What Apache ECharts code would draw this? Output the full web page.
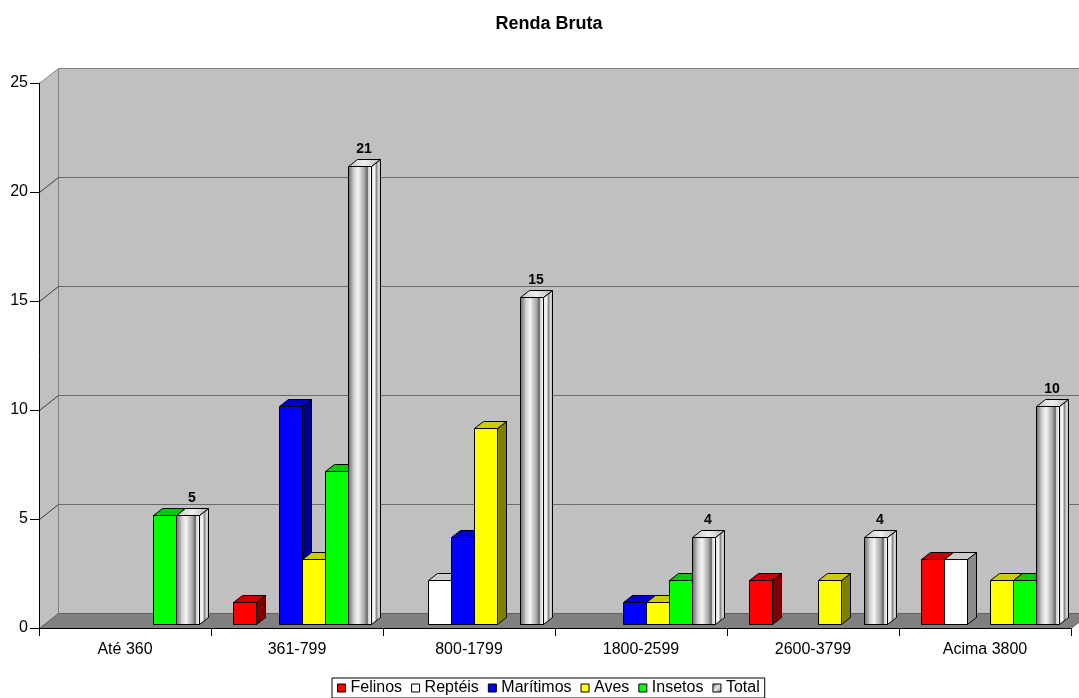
<!DOCTYPE html>
<html>
<head>
<meta charset="utf-8">
<script src="https://cdn.jsdelivr.net/npm/echarts@6/dist/echarts.min.js"></script>
<style>
  html, body { margin: 0; padding: 0; background: #fff; }
  #chart { width: 1079px; height: 698px; }
</style>
</head>
<body>
<div id="chart"></div>
<script>
// Income brackets and counts per group
const categories = ['Até 360', '361-799', '800-1799', '1800-2599', '2600-3799', 'Acima 3800'];
const felinos   = [0, 1, 0, 0, 2, 3];
const repteis   = [0, 0, 2, 0, 0, 3];
const maritimos = [0, 10, 4, 1, 0, 0];
const aves      = [0, 3, 9, 1, 2, 2];
const insetos   = [5, 7, 0, 2, 0, 2];
const total     = [5, 21, 15, 4, 4, 10];
const yTicks    = [0, 5, 10, 15, 20, 25];
const seriesNames = ['Felinos', 'Reptéis', 'Marítimos', 'Aves', 'Insetos', 'Total'];
const seriesValues = [felinos, repteis, maritimos, aves, insetos, total];

const FONT = '"Liberation Sans", Arial, Helvetica, sans-serif';

// Oblique 3D projection: full depth of the plot box in pixels
const DEPTH_X = 19, DEPTH_Y = -15;
// Bars sit between these fractions of the depth
const BAR_FRONT = 0.28, BAR_BACK = 0.72;
// Bar placement inside one category slot (fractions of the slot width)
const BAR_OFFSET = 17 / 172, BAR_WIDTH = 23 / 172;

const G = echarts.graphic.LinearGradient;
// Brushed-metal look for the "Total" columns
const chromeFront = () => new G(0, 0, 1, 0, [
  { offset: 0.00, color: '#6c6c6c' },
  { offset: 0.10, color: '#8e8e8e' },
  { offset: 0.26, color: '#d6d6d6' },
  { offset: 0.42, color: '#f4f4f4' },
  { offset: 0.58, color: '#c4c4c4' },
  { offset: 0.72, color: '#9c9c9c' },
  { offset: 0.80, color: '#5a5a5a' },
  { offset: 0.86, color: '#dcdcdc' },
  { offset: 0.94, color: '#f2f2f2' },
  { offset: 1.00, color: '#b8b8b8' }
]);
const chromeSide = () => new G(0, 0, 1, 0, [
  { offset: 0.00, color: '#e0e0e0' },
  { offset: 0.35, color: '#f4f4f4' },
  { offset: 0.55, color: '#8c8c8c' },
  { offset: 0.75, color: '#d4d4d4' },
  { offset: 1.00, color: '#bcbcbc' }
]);
const chromeTop = () => new G(0, 0, 1, 0, [
  { offset: 0, color: '#c4c4c4' },
  { offset: 0.5, color: '#f0f0f0' },
  { offset: 1, color: '#b0b0b0' }
]);

const faceStyles = [
  { front: '#ff0000', top: '#cc0000', side: '#800000' },
  { front: '#ffffff', top: '#cccccc', side: '#8c8c8c' },
  { front: '#0000ff', top: '#0000cc', side: '#000080' },
  { front: '#ffff00', top: '#cccc00', side: '#808000' },
  { front: '#00ff00', top: '#00cc00', side: '#008000' },
  { front: chromeFront(), top: chromeTop(), side: chromeSide() }
];

function poly(points, fill, stroke) {
  return {
    type: 'polygon',
    shape: { points: points },
    style: { fill: fill, stroke: stroke, lineWidth: 1 },
    silent: true
  };
}
function line(x1, y1, x2, y2, color) {
  return {
    type: 'line',
    shape: { x1: x1, y1: y1, x2: x2, y2: y2 },
    style: { stroke: color, lineWidth: 1 },
    silent: true
  };
}

// Walls, floor and gridlines of the 3D box
function renderFrame(params, api) {
  const cw = api.size([1, 0])[0];
  const first = api.coord([0, yTicks[0]]);
  const last = api.coord([categories.length - 1, yTicks[0]]);
  const left = Math.round(first[0] - cw / 2) + 0.5;
  const right = last[0] + cw / 2;
  const yBase = Math.round(first[1]) + 0.5;
  const yTop = Math.round(api.coord([0, yTicks[yTicks.length - 1]])[1]) + 0.5;
  const dx = DEPTH_X, dy = DEPTH_Y;
  const children = [];
  // back wall
  children.push(poly([[left + dx, yTop + dy], [right + dx, yTop + dy], [right + dx, yBase + dy], [left + dx, yBase + dy]], '#c0c0c0', '#808080'));
  // left side wall
  children.push(poly([[left, yTop], [left + dx, yTop + dy], [left + dx, yBase + dy], [left, yBase]], '#c0c0c0', '#808080'));
  // floor
  children.push(poly([[left, yBase], [left + dx, yBase + dy], [right + dx, yBase + dy], [right, yBase]], '#808080', '#606060'));
  // gridlines on back and side walls
  for (let i = 1; i < yTicks.length - 1; i++) {
    const y = Math.round(api.coord([0, yTicks[i]])[1]) + 0.5;
    children.push(line(left + dx, y + dy, right + dx, y + dy, '#6a6a6a'));
    children.push(line(left, y, left + dx, y + dy, '#3a3a3a'));
  }
  return { type: 'group', children: children };
}

// One 3D column: side, top and front faces
function makeBarRenderer(k) {
  const faces = faceStyles[k];
  const isTotal = k === seriesNames.length - 1;
  return function (params, api) {
    const cat = api.value(0);
    const val = api.value(1);
    if (!val) return null;
    const base = api.coord([cat, 0]);
    const top = api.coord([cat, val]);
    const cw = api.size([1, 0])[0];
    const x0 = Math.round(base[0] - cw / 2 + cw * BAR_OFFSET + k * cw * BAR_WIDTH) + 0.5;
    const x1 = Math.round(base[0] - cw / 2 + cw * BAR_OFFSET + (k + 1) * cw * BAR_WIDTH) + 0.5;
    const fx = Math.round(DEPTH_X * BAR_FRONT), fy = Math.round(DEPTH_Y * BAR_FRONT);
    const bx = Math.round(DEPTH_X * BAR_BACK), by = Math.round(DEPTH_Y * BAR_BACK);
    const yb = Math.round(base[1]) + 0.5;
    const yt = Math.round(top[1]) + 0.5;
    const front = [[x0 + fx, yt + fy], [x1 + fx, yt + fy], [x1 + fx, yb + fy], [x0 + fx, yb + fy]];
    const side = [[x1 + fx, yt + fy], [x1 + bx, yt + by], [x1 + bx, yb + by], [x1 + fx, yb + fy]];
    const topFace = [[x0 + fx, yt + fy], [x0 + bx, yt + by], [x1 + bx, yt + by], [x1 + fx, yt + fy]];
    const children = [
      poly(side, faces.side, '#000'),
      poly(topFace, faces.top, '#000'),
      poly(front, faces.front, '#000')
    ];
    if (isTotal) {
      children.push({
        type: 'text',
        silent: true,
        style: {
          text: String(val),
          x: (x0 + x1) / 2 + fx + 4,
          y: yt + by - 3,
          align: 'center',
          verticalAlign: 'bottom',
          font: 'bold 14px ' + FONT,
          fill: '#000'
        }
      });
    }
    return { type: 'group', children: children };
  };
}

const legendColors = ['#ff0000', '#ffffff', '#0000ff', '#ffff00', '#00ff00',
  new G(0, 0, 1, 1, [{ offset: 0, color: '#707070' }, { offset: 0.5, color: '#e8e8e8' }, { offset: 1, color: '#808080' }])];

const series = [{
  name: 'frame',
  type: 'custom',
  silent: true,
  z: 1,
  clip: false,
  renderItem: renderFrame,
  data: [[0, 0]],
  encode: { x: 0, y: 1 }
}];
seriesNames.forEach(function (name, k) {
  series.push({
    name: name,
    type: 'custom',
    z: 2 + k,
    clip: false,
    renderItem: makeBarRenderer(k),
    itemStyle: { color: legendColors[k] },
    encode: { x: 0, y: 1 },
    data: seriesValues[k].map(function (v, i) { return [i, v]; })
  });
});

const chart = echarts.init(document.getElementById('chart'), null, { renderer: 'canvas' });
chart.setOption({
  animation: false,
  backgroundColor: '#ffffff',
  textStyle: { fontFamily: FONT },
  title: {
    text: 'Renda Bruta',
    left: 549,
    textAlign: 'center',
    top: 15,
    padding: 0,
    textStyle: { fontSize: 18, fontWeight: 'bold', color: '#000', fontFamily: FONT }
  },
  legend: {
    data: seriesNames,
    left: 332,
    top: 678,
    icon: 'rect',
    itemWidth: 8,
    itemHeight: 8,
    itemGap: 9,
    padding: [2, 5, 2, 5],
    borderColor: '#000',
    borderWidth: 1,
    itemStyle: { borderColor: '#000', borderWidth: 1 },
    textStyle: { fontSize: 16, color: '#000', fontFamily: FONT },
    selectedMode: false
  },
  grid: { left: 39, right: 8, top: 83, bottom: 70, containLabel: false },
  xAxis: {
    type: 'category',
    data: categories,
    boundaryGap: true,
    z: 10,
    axisLine: { lineStyle: { color: '#000', width: 1 } },
    axisTick: { show: true, length: 8, lineStyle: { color: '#000' } },
    axisLabel: { fontSize: 16, color: '#000', margin: 14, fontFamily: FONT },
    splitLine: { show: false }
  },
  yAxis: {
    type: 'value',
    min: yTicks[0],
    max: yTicks[yTicks.length - 1],
    interval: yTicks[1] - yTicks[0],
    z: 10,
    axisLine: { show: true, lineStyle: { color: '#000', width: 1 } },
    axisTick: { show: true, length: 9, lineStyle: { color: '#000' } },
    axisLabel: { fontSize: 16, color: '#000', margin: 11, fontFamily: FONT },
    splitLine: { show: false }
  },
  series: series
});
</script>
</body>
</html>
